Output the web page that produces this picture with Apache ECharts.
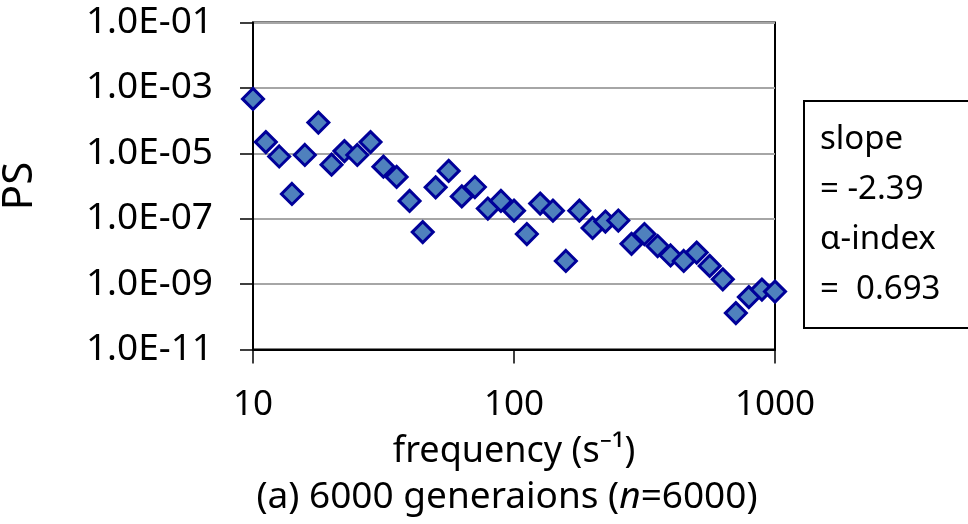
<!DOCTYPE html>
<html>
<head>
<meta charset="utf-8">
<script src="https://cdn.jsdelivr.net/npm/echarts@6/dist/echarts.min.js"></script>
<style>
html,body{margin:0;padding:0;background:#fff;}
#chart{width:968px;height:524px;}
</style>
</head>
<body>
<div id="chart"></div>
<script>
// frequency (s^-1)
const freq = [10, 11.2, 12.6, 14.1, 15.8, 17.8, 20, 22.4, 25.1, 28.2, 31.6, 35.5, 39.8, 44.7, 50.1, 56.2, 63.1, 70.8, 79.4, 89.1,
  100, 112, 126, 141, 158, 178, 200, 224, 251, 282, 316, 355, 398, 447, 501, 562, 631, 708, 794, 891, 1000];
// power spectrum
const ps = [4.6e-4, 2.2e-5, 8.0e-6, 5.7e-7, 8.9e-6, 8.7e-5, 4.5e-6, 1.17e-5, 8.9e-6, 2.2e-5, 3.9e-6, 1.9e-6, 3.5e-7, 3.9e-8, 9.1e-7, 2.9e-6, 4.8e-7, 9.3e-7, 2.05e-7, 3.5e-7,
  1.76e-7, 3.4e-8, 2.9e-7, 1.76e-7, 5.1e-9, 1.76e-7, 5.2e-8, 8.2e-8, 8.8e-8, 1.7e-8, 3.4e-8, 1.46e-8, 7.5e-9, 5.1e-9, 9.2e-9, 3.6e-9, 1.4e-9, 1.3e-10, 4.0e-10, 6.8e-10, 5.9e-10];
const xTickLabels = ['10', '100', '1000'];
const yTickLabels = ['1.0E-11', '1.0E-09', '1.0E-07', '1.0E-05', '1.0E-03', '1.0E-01'];
const boxLines = ['slope', '= -2.39', 'α-index', '=  0.693'];
const xTitle = 'frequency (s⁻¹)';
const yTitle = 'PS';

const FONT = '"Noto Sans", "Open Sans", sans-serif';
const chart = echarts.init(document.getElementById('chart'), null, {renderer: 'canvas'});

function fmtY(v) {
  const e = Math.round(Math.log10(v));
  const idx = (e + 11) / 2;
  if (Number.isInteger(idx) && yTickLabels[idx]) return yTickLabels[idx];
  return '';
}
function fmtX(v) {
  const e = Math.round(Math.log10(v));
  return xTickLabels[e - 1] || '';
}

chart.setOption({
  animation: false,
  backgroundColor: '#fff',
  grid: {left: 253, right: 193, top: 22.5, bottom: 174.5, containLabel: false, outerBoundsMode: 'none',
    show: true, borderColor: '#000', borderWidth: 2, backgroundColor: 'transparent'},
  xAxis: {
    type: 'log', logBase: 10, min: 10, max: 1000,
    axisLine: {show: true, onZero: false, lineStyle: {color: '#000', width: 2}},
    axisTick: {show: true, inside: false, length: 14, lineStyle: {color: '#000', width: 1.5}},
    minorTick: {show: false},
    splitLine: {show: false},
    axisLabel: {formatter: fmtX, color: '#000', fontFamily: FONT, fontSize: 35, margin: 38},
    name: xTitle, nameLocation: 'middle', nameGap: 84,
    nameTextStyle: {color: '#000', fontFamily: FONT, fontSize: 36}
  },
  yAxis: {
    type: 'log', logBase: 10, min: 1e-11, max: 1e-1, interval: 2,
    axisLine: {show: true, onZero: false, lineStyle: {color: '#000', width: 2}},
    axisTick: {show: true, inside: false, length: 13, lineStyle: {color: '#000', width: 1.5}},
    splitLine: {show: true, lineStyle: {color: '#a6a6a6', width: 2}},
    axisLabel: {formatter: fmtY, color: '#000', fontFamily: FONT, fontSize: 37, margin: 40},
    name: yTitle, nameLocation: 'middle', nameGap: 212,
    nameTextStyle: {color: '#000', fontFamily: FONT, fontSize: 42}
  },
  series: [{
    type: 'scatter',
    data: freq.map((f, i) => [f, ps[i]]),
    symbol: 'diamond',
    symbolSize: 21,
    itemStyle: {color: '#4f81bd', borderColor: '#000099', borderWidth: 3, opacity: 1}
  }],
  graphic: [
    {type: 'rect', left: 803, top: 100, shape: {width: 190, height: 227}, style: {fill: '#fff', stroke: '#000', lineWidth: 2}, z: 10},
    ...boxLines.map((t, i) => ({
      type: 'text', x: 820, y: 140 + i * 50, z: 11,
      style: {text: t, fill: '#000', font: '33px ' + FONT, verticalAlign: 'middle'}
    })),
    {
      type: 'text', x: 507, y: 497, z: 11,
      style: {
        text: '{a|(a) 6000 generaions (}{i|n}{a|=6000)}',
        align: 'center', verticalAlign: 'middle',
        rich: {
          a: {fontFamily: FONT, fontSize: 37, fill: '#000', color: '#000'},
          i: {fontFamily: FONT, fontSize: 37, fontStyle: 'italic', fill: '#000', color: '#000'}
        }
      }
    }
  ]
});
</script>
</body>
</html>
